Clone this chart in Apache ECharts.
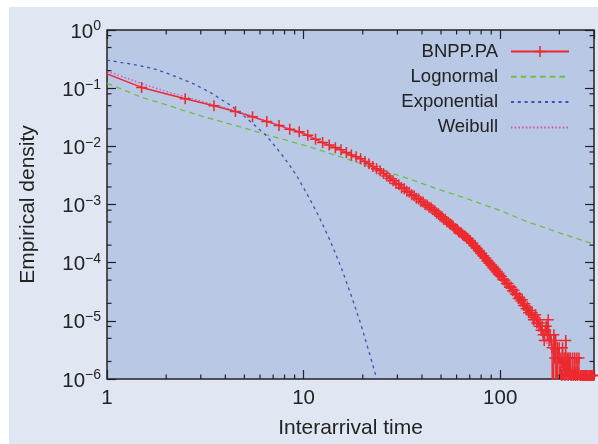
<!DOCTYPE html>
<html>
<head>
    <meta charset="utf-8">
    <script src="https://cdn.jsdelivr.net/npm/echarts@6/dist/echarts.min.js"></script>
    <style>
        body { margin: 0; background: #ffffff; }
        #main { position: absolute; left: 9px; top: 7px; width: 589px; height: 437px; }
    </style>
</head>
<body>
<div id="main"></div>
<script type="text/javascript">
    // empirical density, [interarrival time, density]; a 0 means an empty bin
    var bnpp = [
        [0.5, 0.44], [1.5, 0.103], [2.5, 0.066], [3.5, 0.050], [4.5, 0.0397], [5.5, 0.0323], [6.5, 0.0268],
        [7.5, 0.0229], [8.5, 0.0196], [9.5, 0.0178], [10.5, 0.0155], [11.5, 0.0132], [12.5, 0.0116],
        [13.5, 0.0105], [14.5, 0.0095], [15.5, 0.0087], [16.5, 0.0078], [17.5, 0.0071], [18.5, 0.0066],
        [19.5, 0.0061], [20.5, 0.0055], [21.5, 0.0050], [22.5, 0.0045], [23.5, 0.0041], [24.5, 0.0038],
        [25.5, 0.0034], [26.5, 0.0031], [27.5, 0.0028], [28.5, 2.55e-3], [29.5, 2.30e-3], [30.5, 2.18e-3],
        [31.5, 1.95e-3], [32.5, 1.86e-3], [33.5, 1.69e-3], [34.5, 1.63e-3], [35.5, 1.47e-3], [36.5, 1.41e-3],
        [37.5, 1.28e-3], [38.5, 1.24e-3], [39.5, 1.13e-3], [40.5, 1.10e-3], [41.5, 1.00e-3], [42.5, 9.8e-4],
        [43.5, 9.0e-4], [44.5, 8.8e-4], [45.5, 8.1e-4], [46.5, 7.8e-4], [47.5, 7.1e-4], [48.5, 6.9e-4],
        [49.5, 6.3e-4], [50.5, 6.15e-4], [51.5, 5.6e-4], [52.5, 5.5e-4], [53.5, 5.05e-4], [54.5, 4.95e-4],
        [55.5, 4.6e-4], [56.5, 4.5e-4], [57.5, 4.25e-4], [58.5, 3.9e-4], [59.5, 3.8e-4], [60.5, 3.7e-4],
        [61.5, 3.4e-4], [62.5, 3.3e-4], [63.5, 3.25e-4], [64.5, 3.0e-4], [65.5, 2.9e-4], [66.5, 2.85e-4],
        [67.5, 2.65e-4], [68.5, 2.6e-4], [69.5, 2.42e-4], [70.5, 2.38e-4], [71.5, 2.2e-4], [72.5, 2.16e-4],
        [73.5, 1.98e-4], [74.5, 1.93e-4], [75.5, 1.78e-4], [76.5, 1.75e-4], [77.5, 1.62e-4], [78.5, 1.58e-4],
        [79.5, 1.45e-4], [80.5, 1.43e-4], [81.5, 1.31e-4], [82.5, 1.3e-4], [83.5, 1.2e-4], [84.5, 1.19e-4],
        [85.5, 1.08e-4], [86.5, 1.08e-4], [87.5, 9.9e-5], [88.5, 9.9e-5], [89.5, 9.1e-5], [90.5, 9.1e-5],
        [91.5, 8.3e-5], [92.5, 8.4e-5], [93.5, 7.6e-5], [94.5, 7.7e-5], [95.5, 7.0e-5], [96.5, 7.1e-5],
        [97.5, 6.4e-5], [98.5, 6.6e-5], [99.5, 6.0e-5], [101.5, 5.8e-5], [103.5, 5.1e-5], [105.5, 5.0e-5],
        [107.5, 4.4e-5], [109.5, 4.4e-5], [111.5, 3.8e-5], [113.5, 3.8e-5], [115.5, 3.3e-5], [117.5, 3.35e-5],
        [119.5, 2.9e-5], [121.5, 2.88e-5], [123.5, 2.42e-5], [125.5, 2.53e-5], [127.5, 2.19e-5], [129.5, 2.30e-5],
        [131.5, 1.84e-5], [133.5, 1.96e-5], [135.5, 1.61e-5], [137.5, 1.73e-5], [139.5, 1.38e-5], [141.5, 1.50e-5],
        [143.5, 1.27e-5], [145.5, 1.38e-5], [147.5, 1.04e-5], [149.5, 1.15e-5], [151.5, 1.27e-5], [153.5, 9.2e-6],
        [155.5, 1.04e-5], [157.5, 8.05e-6], [159.5, 9.2e-6], [161.5, 6.9e-6], [163.5, 8.05e-6], [165.5, 5.75e-6],
        [167.5, 4.6e-6], [169.5, 6.9e-6], [171.5, 8.05e-6], [173.5, 5.75e-6], [175.5, 1.04e-5], [177.5, 4.6e-6],
        [179.5, 5.75e-6], [181.5, 4.6e-6], [183.5, 3.45e-6], [185.5, 0], [187.5, 5.75e-6], [189.5, 2.3e-6],
        [191.5, 4.6e-6], [193.5, 0], [195.5, 3.45e-6], [197.5, 2.3e-6], [199.5, 3.45e-6], [201.5, 0],
        [203.5, 2.3e-6], [205.5, 1.15e-6], [207.5, 3.45e-6], [209.5, 0], [211.5, 2.3e-6], [213.5, 1.15e-6],
        [215.5, 4.6e-6], [217.5, 0], [219.5, 2.3e-6], [221.5, 1.15e-6], [223.5, 2.3e-6], [225.5, 0],
        [227.5, 2.3e-6], [229.5, 1.15e-6], [231.5, 0], [233.5, 2.3e-6], [235.5, 1.15e-6], [237.5, 0],
        [239.5, 2.3e-6], [241.5, 1.15e-6], [243.5, 0], [245.5, 2.3e-6], [247.5, 1.15e-6], [249.5, 0],
        [251.5, 2.3e-6], [253.5, 0], [255.5, 1.15e-6], [257.5, 1.15e-6], [259.5, 0], [261.5, 1.15e-6],
        [263.5, 0], [265.5, 1.15e-6], [267.5, 0], [269.5, 1.15e-6], [271.5, 1.15e-6], [273.5, 0],
        [275.5, 1.15e-6], [277.5, 0], [279.5, 1.15e-6], [281.5, 0], [283.5, 1.15e-6], [285.5, 0],
        [287.5, 1.15e-6], [289.5, 0], [291.5, 1.15e-6], [293.5, 0], [295.5, 1.15e-6], [297.5, 0],
        [299.5, 1.15e-6]
    ];

    var lognormal = [
        [1, 0.121], [1.25, 0.090], [1.5, 0.069], [2, 0.052], [2.5, 0.0405], [3, 0.0335], [3.6, 0.0282],
        [4.4, 0.0232], [5.3, 0.0195], [6.5, 0.0158], [8, 0.0130], [10, 0.0105], [12.5, 0.0083], [15, 0.0068],
        [20, 0.0049], [25, 0.0039], [30, 0.0032], [35, 0.0027], [40, 0.0023], [47, 0.00189], [60, 0.00145],
        [70, 0.00121], [85, 9.6e-4], [100, 7.9e-4], [120, 6.1e-4], [140, 4.95e-4], [170, 3.95e-4],
        [200, 3.25e-4], [250, 2.55e-4], [300, 2.07e-4]
    ];

    var exponential = [
        [1, 0.303], [1.3, 0.263], [1.7, 0.220], [2.1, 0.172], [2.7, 0.123], [3.3, 0.087], [4.2, 0.052],
        [5.1, 0.031], [6.5, 0.0150], [7.7, 0.0074], [8.5, 0.0047], [9.4, 0.0028], [10.7, 0.00128],
        [12, 6.1e-4], [13.8, 2.2e-4], [15.7, 7.5e-5], [17.7, 2.4e-5], [19.6, 8.5e-6], [21.6, 2.8e-6],
        [23.2, 1.2e-6], [24.5, 5.7e-7]
    ];

    var weibull = [
        [1, 0.195], [1.25, 0.150], [1.5, 0.120], [2, 0.088], [2.5, 0.071], [3, 0.060], [3.5, 0.052],
        [4, 0.0462], [4.5, 0.0410], [5, 0.0366], [6, 0.0297], [7, 0.0250], [8, 0.0213], [9, 0.0184],
        [10, 0.0161], [12, 0.0126], [14, 0.0101], [16, 0.0082], [18, 0.0068], [20, 0.0057], [25, 0.0037],
        [30, 0.0025], [35, 0.00175], [40, 0.00125], [45, 9.0e-4], [50, 6.6e-4], [60, 3.7e-4], [70, 2.25e-4],
        [80, 1.4e-4], [90, 8.9e-5], [100, 5.8e-5], [120, 2.6e-5], [140, 1.25e-5], [160, 6.3e-6],
        [180, 3.3e-6], [200, 1.8e-6], [220, 1.0e-6], [240, 5.6e-7]
    ];

    var seriesNames = ['BNPP.PA', 'Lognormal', 'Exponential', 'Weibull'];
    var xMinorTicks = [2, 3, 4, 5, 6, 7, 8, 9, 20, 30, 40, 50, 60, 70, 80, 90, 200];
    var yMinorTicks = [2e-6, 5e-6, 8e-6, 2e-5, 5e-5, 8e-5, 2e-4, 5e-4, 8e-4, 2e-3, 5e-3, 8e-3,
        2e-2, 5e-2, 8e-2, 2e-1, 5e-1, 8e-1];

    var FONT = '"Liberation Sans", Arial, sans-serif';
    var INK = '#222222';
    // empty bins have no log value: push them below the axis so the line drops off the frame
    var BELOW_AXIS = 1e-8;
    var CROSS = 'path://M43,0H57V43H100V57H57V100H43V57H0V43H43Z';

    var chart = echarts.init(document.getElementById('main'));

    function minorTicks(values, isX) {
        return {
            type: 'custom',
            silent: true,
            z: 6,
            data: values.map(function (v) { return isX ? [v, 1] : [1, v]; }),
            renderItem: function (params, api) {
                var cs = params.coordSys;
                var p = api.coord([api.value(0), api.value(1)]);
                var len = 4.5;
                var segs = isX
                    ? [[p[0], cs.y + cs.height, p[0], cs.y + cs.height - len], [p[0], cs.y, p[0], cs.y + len]]
                    : [[cs.x, p[1], cs.x + len, p[1]], [cs.x + cs.width, p[1], cs.x + cs.width - len, p[1]]];
                return {
                    type: 'group',
                    children: segs.map(function (s) {
                        return {
                            type: 'line',
                            shape: {x1: s[0], y1: s[1], x2: s[2], y2: s[3]},
                            style: {stroke: INK, lineWidth: 1.2}
                        };
                    })
                };
            }
        };
    }

    // legend entries for the fitted curves: line sample only, no dot
    var legendData = seriesNames.map(function (n, i) {
        return i === 0 ? {name: n} : {name: n, itemStyle: {opacity: 0}};
    });

    var majorTick = {inside: true, length: 9, lineStyle: {color: INK, width: 1.2}};

    chart.setOption({
        animation: false,
        backgroundColor: '#e0e7f3',
        textStyle: {fontFamily: FONT},
        grid: {
            left: 98, top: 23, right: 4, bottom: 63,
            show: true,
            backgroundColor: '#b9c8e4',
            borderColor: INK,
            borderWidth: 1.5
        },
        legend: {
            data: legendData,
            orient: 'vertical',
            align: 'right',
            right: 28,
            top: 35,
            padding: 0,
            itemWidth: 58,
            itemHeight: 14,
            itemGap: 6.3,
            textStyle: {fontSize: 18.5, color: INK, fontFamily: FONT, padding: [0, 8, 0, 0]}
        },
        xAxis: [{
            type: 'log',
            logBase: 10,
            min: 1,
            max: 300,
            position: 'bottom',
            name: 'Interarrival time',
            nameLocation: 'middle',
            nameGap: 39,
            nameTextStyle: {fontSize: 21, color: INK, fontFamily: FONT},
            axisLine: {show: false},
            axisTick: majorTick,
            splitLine: {show: false},
            axisLabel: {
                margin: 9,
                fontSize: 20.5,
                color: INK,
                fontFamily: FONT,
                formatter: function (v) {
                    var e = Math.log10(v);
                    return Math.abs(e - Math.round(e)) < 1e-6 ? String(Math.round(v)) : '';
                }
            }
        }, {
            type: 'log',
            logBase: 10,
            min: 1,
            max: 300,
            position: 'top',
            axisLine: {show: false},
            axisTick: majorTick,
            splitLine: {show: false},
            axisLabel: {show: false}
        }],
        yAxis: [{
            type: 'log',
            logBase: 10,
            min: 1e-6,
            max: 1,
            position: 'left',
            name: 'Empirical density',
            nameLocation: 'middle',
            nameGap: 68,
            nameTextStyle: {fontSize: 21, color: INK, fontFamily: FONT},
            axisLine: {show: false},
            axisTick: majorTick,
            splitLine: {show: false},
            axisLabel: {
                margin: 6,
                padding: [4, 0, 0, 0],
                formatter: function (v) {
                    var e = Math.round(Math.log10(v));
                    return '{b|10}{s|' + (e < 0 ? '\u2212' + (-e) : e) + '}';
                },
                rich: {
                    b: {fontSize: 20.5, lineHeight: 25, color: INK, fontFamily: FONT},
                    s: {fontSize: 14, lineHeight: 14, verticalAlign: 'top', color: INK, fontFamily: FONT}
                }
            }
        }, {
            type: 'log',
            logBase: 10,
            min: 1e-6,
            max: 1,
            position: 'right',
            axisLine: {show: false},
            axisTick: majorTick,
            splitLine: {show: false},
            axisLabel: {show: false}
        }],
        series: [{
            name: 'BNPP.PA',
            type: 'line',
            data: bnpp.map(function (d) { return [d[0], d[1] > 0 ? d[1] : BELOW_AXIS]; }),
            clip: true,
            symbol: CROSS,
            symbolSize: 11,
            showAllSymbol: true,
            color: '#ec2a2e',
            itemStyle: {color: '#ec2a2e'},
            lineStyle: {color: '#ec2a2e', width: 1.5}
        }, {
            name: 'Lognormal',
            type: 'line',
            data: lognormal,
            clip: true,
            showSymbol: false,
            symbol: 'none',
            color: '#6cbf45',
            lineStyle: {color: '#6cbf45', width: 1.3, type: [5.5, 4.2]}
        }, {
            name: 'Exponential',
            type: 'line',
            data: exponential,
            clip: true,
            showSymbol: false,
            symbol: 'none',
            color: '#3a52b4',
            lineStyle: {color: '#3a52b4', width: 1.3, type: [3, 3.8]}
        }, {
            name: 'Weibull',
            type: 'line',
            data: weibull,
            clip: true,
            showSymbol: false,
            symbol: 'none',
            color: '#d24fb2',
            lineStyle: {color: '#d24fb2', width: 1.3, type: [1.5, 2.2]}
        },
            minorTicks(xMinorTicks, true),
            minorTicks(yMinorTicks, false)
        ]
    });
</script>
</body>
</html>
